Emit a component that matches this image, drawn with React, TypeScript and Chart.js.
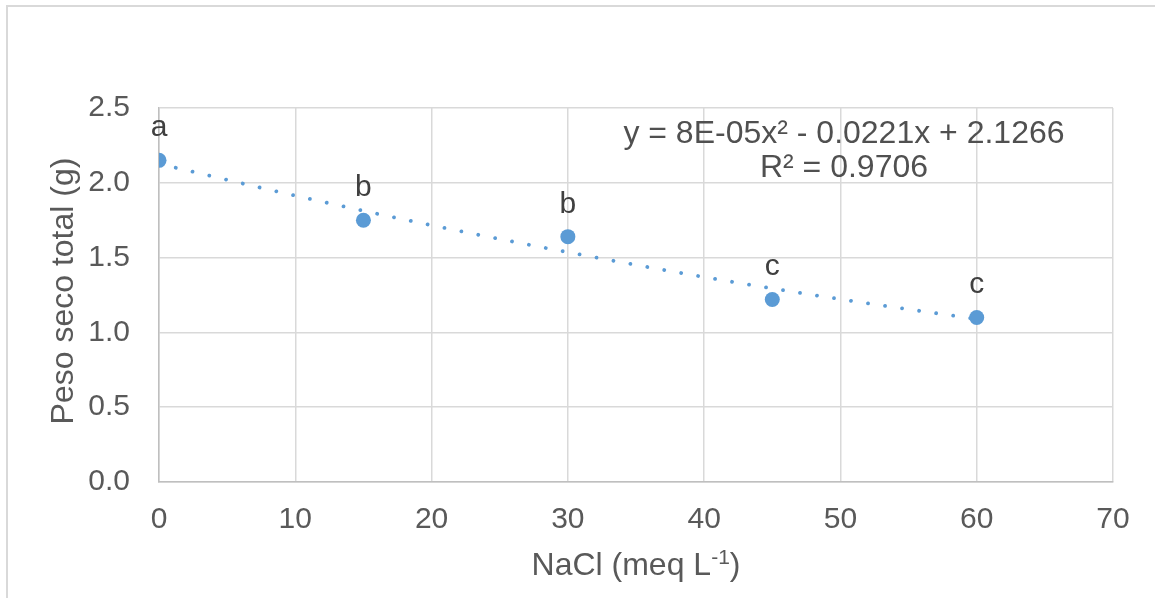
import React, { useEffect, useRef } from "react";
import { Chart, registerables } from "chart.js";

Chart.register(...registerables);

const xValues = [0, 15, 30, 45, 60];
const pesoSeco = [2.15, 1.75, 1.64, 1.22, 1.1];
const letterLabels = ["a", "b", "b", "c", "c"];
const trendX = [0, 10, 20, 30, 40, 50, 60];
const trendY = [2.127, 1.914, 1.716, 1.536, 1.37, 1.222, 1.089];
const equationLines = ["y = 8E-05x² - 0.0221x + 2.1266", "R² = 0.9706"];
const xTitleParts = ["NaCl (meq L", "-1", ")"];
const yTitle = "Peso seco total (g)";

const FONT = "'Liberation Sans', Arial, sans-serif";
const TICK_COLOR = "#595959";
const DARK_TEXT = "#404040";
const GRID = "#d9d9d9";
const BLUE = "#5b9bd5";

const overlayPlugin = {
  id: "overlay",
  afterDraw(chart: any) {
    const ctx = chart.ctx as CanvasRenderingContext2D;
    const area = chart.chartArea;
    ctx.save();
    // outer frame
    ctx.strokeStyle = GRID;
    ctx.lineWidth = 2;
    ctx.beginPath();
    ctx.moveTo(7, 700);
    ctx.lineTo(7, 6);
    ctx.lineTo(1200, 6);
    ctx.stroke();

    // data labels
    const meta = chart.getDatasetMeta(1);
    ctx.fillStyle = DARK_TEXT;
    ctx.font = `30px ${FONT}`;
    ctx.textAlign = "center";
    ctx.textBaseline = "alphabetic";
    meta.data.forEach((el: any, i: number) => {
      ctx.fillText(letterLabels[i], el.x, el.y - 24);
    });

    // equation
    ctx.fillStyle = "#505050";
    ctx.font = `32px ${FONT}`;
    const ex = area.left + (area.right - area.left) * 0.718;
    ctx.fillText(equationLines[0], ex, area.top + 35);
    ctx.fillText(equationLines[1], ex, area.top + 69);

    // x title with superscript
    ctx.fillStyle = TICK_COLOR;
    const big = `32px ${FONT}`;
    const small = `21px ${FONT}`;
    ctx.font = big;
    const w1 = ctx.measureText(xTitleParts[0]).width;
    const w3 = ctx.measureText(xTitleParts[2]).width;
    ctx.font = small;
    const w2 = ctx.measureText(xTitleParts[1]).width;
    const total = w1 + w2 + w3;
    const cx = (area.left + area.right) / 2;
    let sx = cx - total / 2;
    const by = area.bottom + 93;
    ctx.textAlign = "left";
    ctx.font = big;
    ctx.fillText(xTitleParts[0], sx, by);
    sx += w1;
    ctx.font = small;
    ctx.fillText(xTitleParts[1], sx, by - 11);
    sx += w2;
    ctx.font = big;
    ctx.fillText(xTitleParts[2], sx, by);

    // y title
    ctx.translate(73, (area.top + area.bottom) / 2 - 4);
    ctx.rotate(-Math.PI / 2);
    ctx.textAlign = "center";
    ctx.font = big;
    ctx.fillText(yTitle, 0, 0);
    ctx.restore();
  },
};

export default function App() {
  const ref = useRef<HTMLCanvasElement | null>(null);
  useEffect(() => {
    if (!ref.current) return;
    const chart = new Chart(ref.current, {
      type: "scatter",
      data: {
        datasets: [
          {
            label: "Tendencia",
            data: trendX.map((x, i) => ({ x, y: trendY[i] })),
            showLine: true,
            borderColor: BLUE,
            borderWidth: 3.8,
            borderDash: [0.01, 17.2],
            borderCapStyle: "round",
            cubicInterpolationMode: "monotone",
            pointRadius: 0,
            fill: false,
          } as any,
          {
            label: "Peso seco total",
            data: xValues.map((x, i) => ({ x, y: pesoSeco[i] })),
            backgroundColor: BLUE,
            borderColor: BLUE,
            borderWidth: 0,
            pointRadius: 7.5,
          },
        ],
      },
      options: {
        animation: false,
        responsive: false,
        layout: { padding: { left: 0, top: 108, right: 42, bottom: 0 } },
        plugins: {
          legend: { display: false },
          tooltip: { enabled: false },
        },
        scales: {
          x: {
            type: "linear",
            min: 0,
            max: 70,
            ticks: {
              stepSize: 10,
              color: TICK_COLOR,
              font: { family: FONT, size: 30 },
              padding: 20,
            },
            grid: { color: GRID, lineWidth: 1.5, drawTicks: false },
            border: { color: "#bfbfbf", width: 1.5 },
            afterFit: (s: any) => {
              s.height = 116;
            },
          },
          y: {
            min: 0,
            max: 2.5,
            ticks: {
              stepSize: 0.5,
              color: TICK_COLOR,
              font: { family: FONT, size: 30 },
              padding: 29,
              callback: (v: any) => Number(v).toFixed(1),
            },
            grid: { color: GRID, lineWidth: 1.5, drawTicks: false },
            border: { color: "#bfbfbf", width: 1.5 },
            afterFit: (s: any) => {
              s.width = 159;
            },
          },
        },
      },
      plugins: [overlayPlugin],
    });
    return () => chart.destroy();
  }, []);
  return (
    <div style={{ position: "fixed", left: 0, top: 0, width: 1155, height: 598, background: "#fff" }}>
      <canvas ref={ref} width={1155} height={598} style={{ display: "block" }} />
    </div>
  );
}
